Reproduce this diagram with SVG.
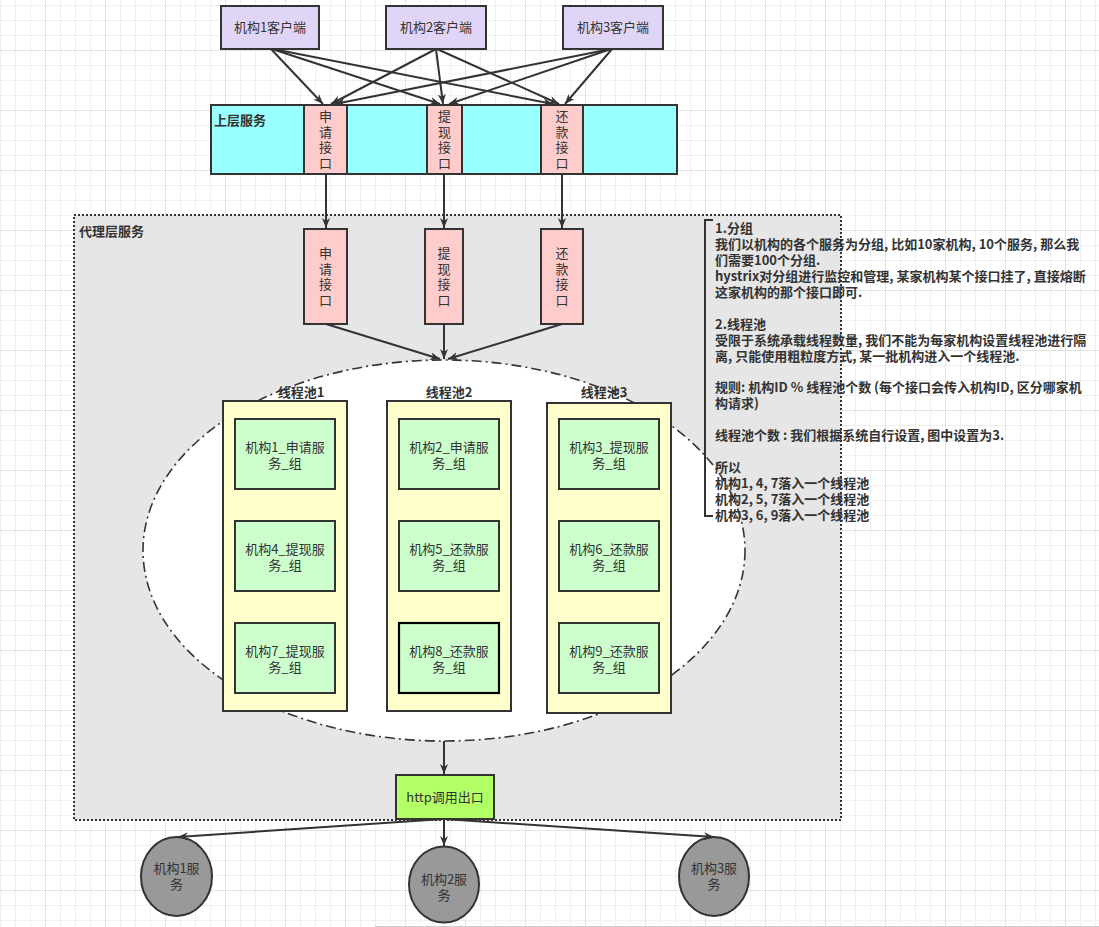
<svg xmlns="http://www.w3.org/2000/svg" width="1099" height="927" viewBox="0 0 1099 927">
<style>
text{font-family:"Noto Sans CJK SC","Noto Sans",sans-serif;font-size:13px;fill:#333}
.b{font-weight:bold}
.m{text-anchor:middle}
.v{writing-mode:vertical-rl;text-anchor:middle;letter-spacing:2.5px}
.box{stroke:#333;stroke-width:2}
.cl{fill:#E1D5F7}
.if{fill:#FFCCCC}
.pool{fill:#FFFFCC}
.grp{fill:#CCFFCC}
.svc{fill:#999999}
.e{fill:none;stroke:#333;stroke-width:2;marker-end:url(#arr)}
</style>
<defs>
<pattern id="gmin" width="15" height="15" patternUnits="userSpaceOnUse" x="0" y="5">
<path d="M0.5,0V15M0,0.5H15" stroke="#F0F0F0" stroke-width="1" fill="none"/>
</pattern>
<pattern id="gmaj" width="60" height="60" patternUnits="userSpaceOnUse" x="45" y="50">
<path d="M0.5,0V60M0,0.5H60" stroke="#E2E2E2" stroke-width="1" fill="none"/>
</pattern>
<marker id="arr" markerUnits="userSpaceOnUse" markerWidth="12" markerHeight="10" refX="10" refY="4" orient="auto">
<path d="M0,0L10,4L0,8L3,4z" fill="#333"/>
</marker>
</defs>
<rect width="1099" height="927" fill="#fff"/>
<rect width="1099" height="927" fill="url(#gmin)"/>
<rect width="1099" height="927" fill="url(#gmaj)"/>
<line x1="375" y1="926.5" x2="1099" y2="926.5" stroke="#ccc" stroke-width="1"/>

<g id="proxy">
<rect x="74" y="215" width="767" height="605" fill="#E6E6E6" stroke="#333" stroke-width="2" stroke-dasharray="2 2"/>
<text x="79" y="236" class="b">代理层服务</text>
</g>

<g id="clients">
<g id="client1"><rect x="221" y="6" width="98" height="43" class="box cl"/><text x="270" y="32" class="m">机构1客户端</text></g>
<g id="client2"><rect x="386" y="6" width="100" height="43" class="box cl"/><text x="436" y="32" class="m">机构2客户端</text></g>
<g id="client3"><rect x="563" y="6" width="100" height="43" class="box cl"/><text x="613" y="32" class="m">机构3客户端</text></g>
</g>

<g id="upper">
<rect x="211" y="105" width="466" height="69" fill="#99FFFF" class="box"/>
<text x="214" y="125" class="b">上层服务</text>
<g id="up-apply"><rect x="304" y="105" width="43" height="69" class="box if"/>
<text class="v" x="325.5" y="141">申请接口</text></g>
<g id="up-withdraw"><rect x="427" y="105" width="35" height="69" class="box if"/>
<text class="v" x="444.5" y="141">提现接口</text></g>
<g id="up-repay"><rect x="541" y="105" width="42" height="69" class="box if"/>
<text class="v" x="562" y="141">还款接口</text></g>
</g>

<g id="px-apply"><rect x="304" y="229" width="43" height="95" class="box if"/>
<text class="v" x="325.5" y="278">申请接口</text></g>
<g id="px-withdraw"><rect x="425" y="229" width="38" height="95" class="box if"/>
<text class="v" x="444" y="278">提现接口</text></g>
<g id="px-repay"><rect x="541" y="229" width="42" height="95" class="box if"/>
<text class="v" x="562" y="278">还款接口</text></g>

<g id="poolarea">
<ellipse cx="444" cy="550.5" rx="301" ry="190.5" fill="#fff" stroke="#333" stroke-width="1.6" stroke-dasharray="10 4 2 4"/>
</g>

<g id="pool1">
<rect x="223" y="401" width="124" height="310" class="box pool"/>
<text x="301" y="397" class="m b">线程池1</text>
<g id="g1"><rect x="235" y="419" width="100" height="70" class="box grp"/><text class="m"><tspan x="285" y="451.5">机构1_申请服</tspan><tspan x="285" y="467.5">务_组</tspan></text></g>
<g id="g4"><rect x="235" y="521" width="100" height="70" class="box grp"/><text class="m"><tspan x="285" y="553.5">机构4_提现服</tspan><tspan x="285" y="569.5">务_组</tspan></text></g>
<g id="g7"><rect x="235" y="623" width="100" height="70" class="box grp"/><text class="m"><tspan x="285" y="655.5">机构7_提现服</tspan><tspan x="285" y="671.5">务_组</tspan></text></g>
</g>
<g id="pool2">
<rect x="387" y="401" width="124" height="310" class="box pool"/>
<text x="449" y="397" class="m b">线程池2</text>
<g id="g2"><rect x="399" y="419" width="100" height="70" class="box grp"/><text class="m"><tspan x="449" y="451.5">机构2_申请服</tspan><tspan x="449" y="467.5">务_组</tspan></text></g>
<g id="g5"><rect x="399" y="521" width="100" height="70" class="box grp"/><text class="m"><tspan x="449" y="553.5">机构5_还款服</tspan><tspan x="449" y="569.5">务_组</tspan></text></g>
<g id="g8"><rect x="399" y="623" width="100" height="70" class="grp" stroke="#000" stroke-width="2.2"/><text class="m"><tspan x="449" y="655.5">机构8_还款服</tspan><tspan x="449" y="671.5">务_组</tspan></text></g>
</g>
<g id="pool3">
<rect x="547" y="403" width="124" height="310" class="box pool"/>
<text x="604" y="397" class="m b">线程池3</text>
<g id="g3"><rect x="559" y="419" width="100" height="70" class="box grp"/><text class="m"><tspan x="609" y="451.5">机构3_提现服</tspan><tspan x="609" y="467.5">务_组</tspan></text></g>
<g id="g6"><rect x="559" y="521" width="100" height="70" class="box grp"/><text class="m"><tspan x="609" y="553.5">机构6_还款服</tspan><tspan x="609" y="569.5">务_组</tspan></text></g>
<g id="g9"><rect x="559" y="623" width="100" height="70" class="box grp"/><text class="m"><tspan x="609" y="655.5">机构9_还款服</tspan><tspan x="609" y="671.5">务_组</tspan></text></g>
</g>

<g id="http"><rect x="396" y="775" width="98" height="44" fill="#B3FF66" class="box"/><text x="445" y="801.5" class="m">http调用出口</text></g>

<g id="svc1"><ellipse cx="176.5" cy="876.5" rx="35.5" ry="39.5" class="box svc"/><text class="m"><tspan x="176.5" y="873">机构1服</tspan><tspan x="176.5" y="889">务</tspan></text></g>
<g id="svc2"><ellipse cx="444" cy="884.5" rx="35" ry="38" class="box svc"/><text class="m"><tspan x="444" y="884">机构2服</tspan><tspan x="444" y="900">务</tspan></text></g>
<g id="svc3"><ellipse cx="714" cy="876.5" rx="35" ry="39.5" class="box svc"/><text class="m"><tspan x="714" y="873">机构3服</tspan><tspan x="714" y="889">务</tspan></text></g>

<g id="connectors">
<line x1="271" y1="49" x2="323" y2="104" class="e"/>
<line x1="272" y1="49" x2="440" y2="104" class="e"/>
<line x1="273" y1="49" x2="553" y2="104" class="e"/>
<line x1="436" y1="49" x2="331" y2="104" class="e"/>
<line x1="436" y1="49" x2="443" y2="104" class="e"/>
<line x1="437" y1="49" x2="559" y2="104" class="e"/>
<line x1="611" y1="49" x2="335" y2="104" class="e"/>
<line x1="611" y1="49" x2="449" y2="104" class="e"/>
<line x1="612" y1="49" x2="565" y2="104" class="e"/>
<line x1="326" y1="174" x2="326" y2="228" class="e"/>
<line x1="444" y1="174" x2="444" y2="228" class="e"/>
<line x1="562" y1="174" x2="562" y2="228" class="e"/>
<line x1="326" y1="324" x2="440" y2="359" class="e"/>
<line x1="444" y1="324" x2="444" y2="359" class="e"/>
<line x1="562" y1="324" x2="448" y2="359" class="e"/>
<line x1="444" y1="741" x2="444" y2="774" class="e"/>
<line x1="444" y1="819" x2="178" y2="837" class="e"/>
<line x1="444" y1="819" x2="444" y2="846" class="e"/>
<line x1="444" y1="819" x2="714" y2="837" class="e"/>
</g>

<g id="note">
<path d="M713,220H705V516H713" fill="none" stroke="#333" stroke-width="2"/>
<text class="b">
<tspan x="715" y="233">1.分组</tspan>
<tspan x="715" y="249">我们以机构的各个服务为分组, 比如10家机构, 10个服务, 那么我</tspan>
<tspan x="715" y="265">们需要100个分组.</tspan>
<tspan x="715" y="281">hystrix对分组进行监控和管理, 某家机构某个接口挂了, 直接熔断</tspan>
<tspan x="715" y="297">这家机构的那个接口即可.</tspan>
<tspan x="715" y="328.5">2.线程池</tspan>
<tspan x="715" y="344.5">受限于系统承载线程数量, 我们不能为每家机构设置线程池进行隔</tspan>
<tspan x="715" y="360.5">离, 只能使用粗粒度方式, 某一批机构进入一个线程池.</tspan>
<tspan x="715" y="392">规则: 机构ID % 线程池个数 (每个接口会传入机构ID, 区分哪家机</tspan>
<tspan x="715" y="408">构请求)</tspan>
<tspan x="715" y="440">线程池个数 : 我们根据系统自行设置, 图中设置为3.</tspan>
<tspan x="715" y="471.5">所以</tspan>
<tspan x="715" y="487.5">机构1, 4, 7落入一个线程池</tspan>
<tspan x="715" y="503.5">机构2, 5, 7落入一个线程池</tspan>
<tspan x="715" y="519.5">机构3, 6, 9落入一个线程池</tspan>
</text>
</g>
</svg>
